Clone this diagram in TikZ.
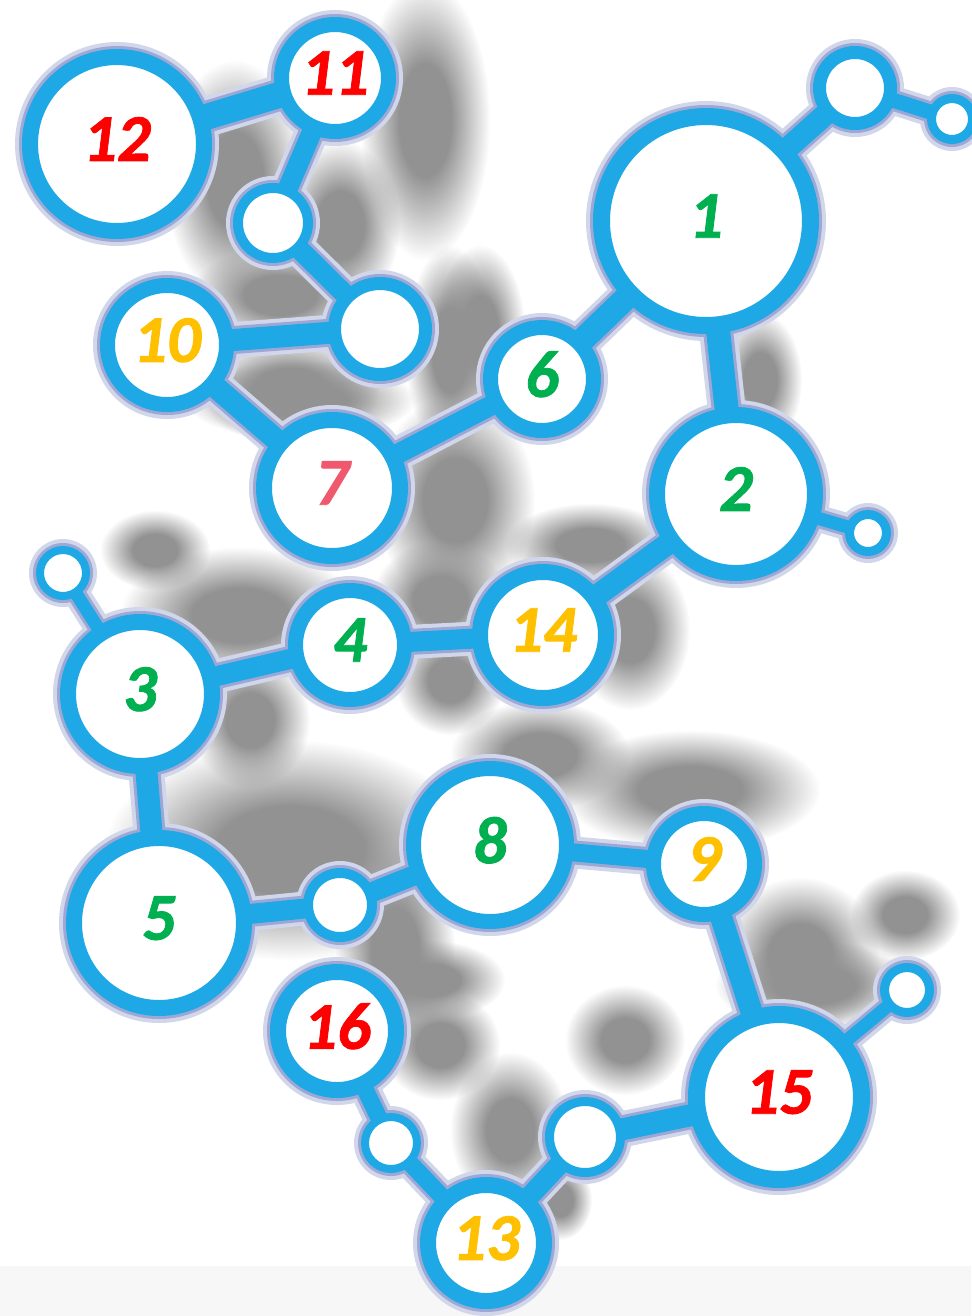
\documentclass[tikz,border=0pt]{standalone}
\usepackage{fontspec}
\setmainfont{Carlito}
\newfontfamily\numfont{Carlito Bold Italic}[FakeBold=1.2]
\usetikzlibrary{fadings}

\definecolor{ringblue}{RGB}{30,169,230}
\definecolor{haze}{RGB}{140,152,204}
\definecolor{smoke}{RGB}{146,146,146}
\definecolor{bandgray}{RGB}{247,247,247}
\definecolor{numgreen}{RGB}{0,176,80}
\definecolor{numred}{RGB}{255,0,0}
\definecolor{numorange}{RGB}{255,192,0}
\definecolor{numpink}{RGB}{240,88,110}

% soft blob for the shadows
\pgfdeclareradialshading{blobshading}{\pgfpointorigin}{color(0bp)=(white); color(10bp)=(white); color(25bp)=(black); color(50bp)=(black)}
\pgfdeclarefading{blob}{\pgfuseshading{blobshading}}

\tikzset{
    ring/.style 2 args={circle, inner sep=0pt, fill=white, draw=ringblue,
        line width=#2*0.02cm, minimum size={(2*#1+#2)*0.02cm}, text depth=0.2cm,
        font=\fontsize{38}{42}\numfont},
    bond/.style={draw=ringblue, line width=#1*0.02cm},
    bondhaze/.style 2 args={draw=#2, line width={(#1+#1)*0.01cm}},
    smudge/.style={fill=smoke, path fading=blob},
}

\begin{document}
\begin{tikzpicture}[x=0.02cm, y=-0.02cm]
    % Define the layers
    \pgfdeclarelayer{shadow}
    \pgfdeclarelayer{glowout}
    \pgfdeclarelayer{glowin}
    \pgfdeclarelayer{bonds}
    \pgfsetlayers{shadow,glowout,glowin,bonds,main}

    \useasboundingbox (0,0) rectangle (971,1316);

    % Shadow layer
    \begin{pgfonlayer}{shadow}
        \fill[bandgray] (0,1266) rectangle (971,1316);
        \foreach \cx/\cy/\a/\b in {
            235/180/70/120, 425/120/65/140, 340/225/60/85, 280/295/90/50,
            290/390/90/55, 450/350/45/105, 480/330/45/85, 455/500/80/105,
            300/400/115/40, 155/550/55/40, 240/615/120/68, 440/600/68/60,
            250/720/60/68, 290/850/185/110, 395/950/60/105, 540/755/90/55,
            690/790/130/60, 800/955/80/78, 905/915/55/45, 440/1045/60/55,
            625/1040/60/55, 510/1130/60/78, 815/985/100/45, 630/630/60/80,
            590/545/85/42, 760/380/42/68, 450/680/55/55, 560/1200/32/40,
            430/980/75/40}
            \fill[smudge] (\cx,\cy) ellipse ({\a} and {\b});
    \end{pgfonlayer}

    % Rings
    \foreach \nm/\cx/\cy/\ri/\rw/\txt/\tc in {
        n1/706/221/96/17/1/numgreen,
        n2/736/494/71/16/2/numgreen,
        n3/140/694/64/16/3/numgreen,
        n4/350/645/47/15/4/numgreen,
        n5/159/923/77/16/5/numgreen,
        n6/542/379/44/15/6/numgreen,
        n7/332/488/60/16/7/numpink,
        n8/490/845/69/15/8/numgreen,
        n9/704/864/43/15/9/numorange,
        n10/167/345/52/15/10/numorange,
        n11/335/78/46/15/11/numred,
        n12/117/144/79/16/12/numred,
        n13/486/1243/50/16/13/numorange,
        n14/543/635/55/16/14/numorange,
        n15/779/1097/74/17/15/numred,
        n16/337/1031/51/16/16/numred,
        s1/273/223/30/10//white,
        s2/380/329/39/13//white,
        s3/855/88/29/13//white,
        s4/952/119/16/9//white,
        s5/868/533/14/9//white,
        s6/63/573/19/8//white,
        s7/340/905/27/10//white,
        s8/907/990/18/9//white,
        s9/391/1143/22/8//white,
        s10/585/1137/31/9//white}
    {
        \node[ring={\ri}{\rw}, text=\tc] (\nm) at (\cx,\cy) {\txt};
        \begin{pgfonlayer}{glowout}
            \fill[haze!40!white] (\cx,\cy) circle ({\ri+\rw+7});
        \end{pgfonlayer}
        \begin{pgfonlayer}{glowin}
            \fill[haze!85!white] (\cx,\cy) circle ({\ri+\rw+3});
        \end{pgfonlayer}
    }

    % Bonds
    \foreach \a/\b/\w in {
        n12/n11/26, n11/s1/20, s1/s2/20, n10/s2/22, n10/n7/22,
        n7/n6/20, n6/n1/24, n1/s3/22, s3/s4/15, n1/n2/24,
        n2/s5/13, n2/n14/22, n14/n4/20, n4/n3/20, n3/s6/13,
        n3/n5/22, n5/s7/20, s7/n8/20, n8/n9/18, n9/n15/22,
        n15/s8/13, n15/s10/22, s10/n13/20, n13/s9/17, s9/n16/17}
    {
        \begin{pgfonlayer}{glowout}
            \draw[bondhaze={\w+14}{haze!40!white}] (\a.center) -- (\b.center);
        \end{pgfonlayer}
        \begin{pgfonlayer}{glowin}
            \draw[bondhaze={\w+6}{haze!85!white}] (\a.center) -- (\b.center);
        \end{pgfonlayer}
        \begin{pgfonlayer}{bonds}
            \draw[bond=\w] (\a.center) -- (\b.center);
        \end{pgfonlayer}
    }
\end{tikzpicture}
\end{document}
